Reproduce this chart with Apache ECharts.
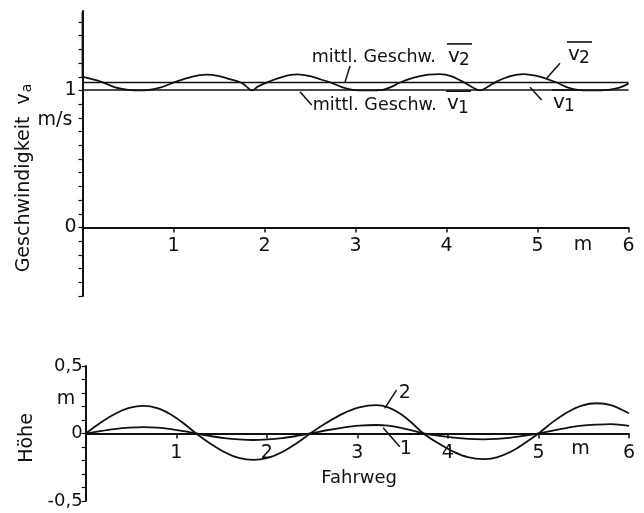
<!DOCTYPE html>
<html>
<head>
<meta charset="utf-8">
<script src="https://cdn.jsdelivr.net/npm/echarts@6/dist/echarts.min.js"></script>
<style>
  html, body { margin: 0; padding: 0; background: #fff; }
  #chart { width: 644px; height: 513px; }
</style>
</head>
<body>
<div id="chart"></div>
<script>
// Fahrweg in m und Geschwindigkeit v_a in m/s (oberes Diagramm)
const velWeg  = [0, 0, 0.03, 0.2, 0.35, 0.5, 0.67, 0.85, 1.03, 1.2, 1.36, 1.5, 1.62, 1.74, 1.8, 1.86,
                 1.93, 2.05, 2.2, 2.36, 2.5, 2.62, 2.72, 2.85, 2.97, 3.13, 3.3, 3.4, 3.49, 3.65, 3.8,
                 3.93, 4.05, 4.19, 4.28, 4.37, 4.45, 4.55, 4.7, 4.85, 5.0, 5.1, 5.21, 5.32, 5.44, 5.6,
                 5.78, 5.9, 6.0];
const velWert = [1.57, 1.10, 1.095, 1.065, 1.025, 1.005, 1.0, 1.02, 1.065, 1.1, 1.115, 1.105, 1.082, 1.058, 1.03, 1.0,
                 1.03, 1.065, 1.1, 1.117, 1.105, 1.08, 1.06, 1.025, 1.005, 1.0, 1.005, 1.028, 1.058, 1.095, 1.115,
                 1.12, 1.105, 1.06, 1.025, 1.0, 1.025, 1.065, 1.105, 1.12, 1.105, 1.085, 1.058, 1.025, 1.005, 1.0,
                 1.005, 1.02, 1.05];
// mittlere Geschwindigkeiten
const meanV1 = 1.003;
const meanV2 = 1.058;

// Fahrweg in m und Höhe in m (unteres Diagramm), Kurven 1 und 2
const hWeg   = [0, 0.16, 0.32, 0.48, 0.64, 0.79, 0.94, 1.08, 1.22, 1.37, 1.53, 1.69, 1.85, 2.01, 2.17, 2.33,
                2.48, 2.66, 2.84, 3.02, 3.21, 3.34, 3.47, 3.6, 3.73, 3.89, 4.06, 4.22, 4.39, 4.54, 4.7, 4.85,
                5.0, 5.16, 5.32, 5.48, 5.64, 5.8, 6.0];
const hoehe1 = [0, 0.018, 0.033, 0.043, 0.047, 0.043, 0.032, 0.017, 0, -0.018, -0.034, -0.044, -0.048, -0.044, -0.034, -0.018,
                0, 0.024, 0.044, 0.058, 0.063, 0.058, 0.044, 0.024, 0, -0.016, -0.03, -0.04, -0.043, -0.04, -0.03, -0.016,
                0, 0.022, 0.042, 0.058, 0.066, 0.07, 0.056];
const hoehe2 = [0, 0.078, 0.145, 0.189, 0.205, 0.188, 0.141, 0.076, 0, -0.072, -0.137, -0.181, -0.196, -0.181, -0.137, -0.072,
                0, 0.079, 0.147, 0.193, 0.21, 0.194, 0.148, 0.08, 0, -0.071, -0.134, -0.175, -0.19, -0.176, -0.133, -0.071,
                0, 0.086, 0.158, 0.207, 0.224, 0.21, 0.15];

// Achsenbereiche und Beschriftungen
const yRangeOben  = [-0.5, 1.58];
const yRangeUnten = [-0.5, 0.5];
const yLabelsOben  = { '0': '0', '1': '1' };
const yLabelsUnten = { '-0.5': '-0,5', '0': '0', '0.5': '0,5' };

const FONT = '"DejaVu Sans", sans-serif';
const INK = '#111';

const grids = [
  { left: 82.5, top: 11, width: 546, height: 285 },
  { left: 85.7, top: 366, width: 543.3, height: 135 }
];

const zip = (xs, ys) => xs.map((x, i) => [x, ys[i]]);
const key = v => String(Math.round(v * 10) / 10);

// x-Achse auf Höhe der Nulllinie der jeweiligen y-Achse
function xAxisFor(gridIndex, yRange, margin) {
  const h = grids[gridIndex].height;
  const zeroUp = (0 - yRange[0]) / (yRange[1] - yRange[0]) * h;
  return {
    type: 'value', gridIndex, min: 0, max: 6, interval: 1,
    position: 'bottom', offset: -zeroUp,
    axisLine: { onZero: false, lineStyle: { color: INK, width: 2 } },
    axisTick: { show: true, inside: false, length: 5, lineStyle: { color: INK, width: 1.5 } },
    axisLabel: {
      color: INK, fontFamily: FONT, fontSize: 19, margin,
      formatter: v => (v === 0 ? '' : String(v))
    },
    splitLine: { show: false }
  };
}

function yAxisFor(gridIndex, range, labels, margin, fontSize, showMax) {
  return {
    type: 'value', gridIndex, min: range[0], max: range[1], interval: 0.1,
    axisLine: { show: true, onZero: false, lineStyle: { color: INK, width: 2 } },
    axisTick: { show: true, inside: false, length: 4, lineStyle: { color: INK, width: 1.2 } },
    axisLabel: {
      color: INK, fontFamily: FONT, fontSize, margin, showMaxLabel: showMax, showMinLabel: true,
      formatter: v => labels[key(v)] || ''
    },
    splitLine: { show: false }
  };
}

const lineStyle = { color: INK, width: 1.8 };
const baseLine = { type: 'line', symbol: 'none', showSymbol: false, silent: true, animation: false };

const chart = echarts.init(document.getElementById('chart'), null, { renderer: 'canvas' });

chart.setOption({
  backgroundColor: '#fff',
  animation: false,
  grid: grids.map(g => Object.assign({ outerBoundsMode: 'none' }, g)),
  xAxis: [xAxisFor(0, yRangeOben, 9), xAxisFor(1, yRangeUnten, 10)],
  yAxis: [
    yAxisFor(0, yRangeOben, yLabelsOben, 6, 19, false),
    yAxisFor(1, yRangeUnten, yLabelsUnten, 3, 18, true)
  ],
  series: [
    // Anlaufspitze am Wegbeginn
    Object.assign({}, baseLine, { xAxisIndex: 0, yAxisIndex: 0, smooth: false,
      data: zip(velWeg.slice(0, 3), velWert.slice(0, 3)), lineStyle }),
    // Geschwindigkeitsverlauf
    Object.assign({}, baseLine, { xAxisIndex: 0, yAxisIndex: 0, smooth: 0.35,
      data: zip(velWeg.slice(2), velWert.slice(2)), lineStyle }),
    // mittlere Geschwindigkeiten
    Object.assign({}, baseLine, { xAxisIndex: 0, yAxisIndex: 0,
      data: [[0, meanV1], [6, meanV1]], lineStyle: { color: INK, width: 1.6 } }),
    Object.assign({}, baseLine, { xAxisIndex: 0, yAxisIndex: 0,
      data: [[0, meanV2], [6, meanV2]], lineStyle: { color: INK, width: 1.6 } }),
    // Höhenprofile 1 und 2
    Object.assign({}, baseLine, { xAxisIndex: 1, yAxisIndex: 1, smooth: 0.35,
      data: zip(hWeg, hoehe1), lineStyle }),
    Object.assign({}, baseLine, { xAxisIndex: 1, yAxisIndex: 1, smooth: 0.35,
      data: zip(hWeg, hoehe2), lineStyle })
  ]
});

// Beschriftungen, an Datenkoordinaten verankert
const px = (g, pt) => chart.convertToPixel({ gridIndex: g }, pt);

function text(pos, str, size, align) {
  return {
    type: 'text', x: pos[0], y: pos[1], silent: true,
    style: { text: str, font: size + 'px ' + FONT, fill: INK,
             align: align || 'center', verticalAlign: 'middle',
             textAlign: align || 'center', textVerticalAlign: 'middle' }
  };
}
function seg(a, b, w) {
  return { type: 'line', silent: true,
           shape: { x1: a[0], y1: a[1], x2: b[0], y2: b[1] },
           style: { stroke: INK, lineWidth: w || 1.5 } };
}
// v mit Überstrich und Index
function vBar(pos, sub) {
  const [x, y] = pos;
  return [
    text([x, y], 'v', 20, 'left'),
    text([x + 11, y + 4], sub, 17, 'left'),
    seg([x - 1, y - 13], [x + 24, y - 13], 1.6)
  ];
}

const els = [];
// oberes Diagramm
els.push(text(px(0, [2.52, 1.24]), 'mittl. Geschw.', 17.5, 'left'));
els.push(text(px(0, [2.53, 0.893]), 'mittl. Geschw.', 17.5, 'left'));
els.push(...vBar(px(0, [4.016, 1.245]), '2'));
els.push(...vBar(px(0, [4.005, 0.9]), '1'));
els.push(...vBar(px(0, [5.335, 1.259]), '2'));
els.push(...vBar(px(0, [5.170, 0.908]), '1'));
els.push(seg(px(0, [2.94, 1.179]), px(0, [2.885, 1.062])));
els.push(seg(px(0, [2.39, 0.99]), px(0, [2.519, 0.894])));
els.push(seg(px(0, [5.247, 1.199]), px(0, [5.101, 1.089])));
els.push(seg(px(0, [4.918, 1.023]), px(0, [5.046, 0.931])));
els.push(text(px(0, [5.5, -0.128]), 'm', 19));
// unteres Diagramm
els.push(text(px(1, [3.524, 0.30]), '2', 19));
els.push(text(px(1, [3.535, -0.115]), '1', 19));
els.push(seg(px(1, [3.432, 0.322]), px(1, [3.303, 0.186])));
els.push(seg(px(1, [3.469, -0.098]), px(1, [3.285, 0.043])));
els.push(text(px(1, [5.465, -0.115]), 'm', 19));
els.push(text(px(1, [3.02, -0.33]), 'Fahrweg', 18));
// Achsentitel
els.push(text([55, 120], 'm/s', 19));
els.push(text([66, 399], 'm', 19));
els.push({
  type: 'text', x: 24, y: 178, rotation: Math.PI / 2, silent: true,
  style: {
    text: '{n|Geschwindigkeit  v}{s|a}',
    align: 'center', verticalAlign: 'middle', textAlign: 'center', textVerticalAlign: 'middle',
    rich: {
      n: { fontFamily: FONT, fontSize: 19, fill: INK, color: INK },
      s: { fontFamily: FONT, fontSize: 14, fill: INK, color: INK, padding: [7, 0, 0, 1] }
    }
  }
});
els.push({
  type: 'text', x: 27, y: 438, rotation: Math.PI / 2, silent: true,
  style: { text: 'Höhe', font: '19px ' + FONT, fill: INK,
           align: 'center', verticalAlign: 'middle', textAlign: 'center', textVerticalAlign: 'middle' }
});

chart.setOption({ graphic: { elements: els } });
</script>
</body>
</html>
